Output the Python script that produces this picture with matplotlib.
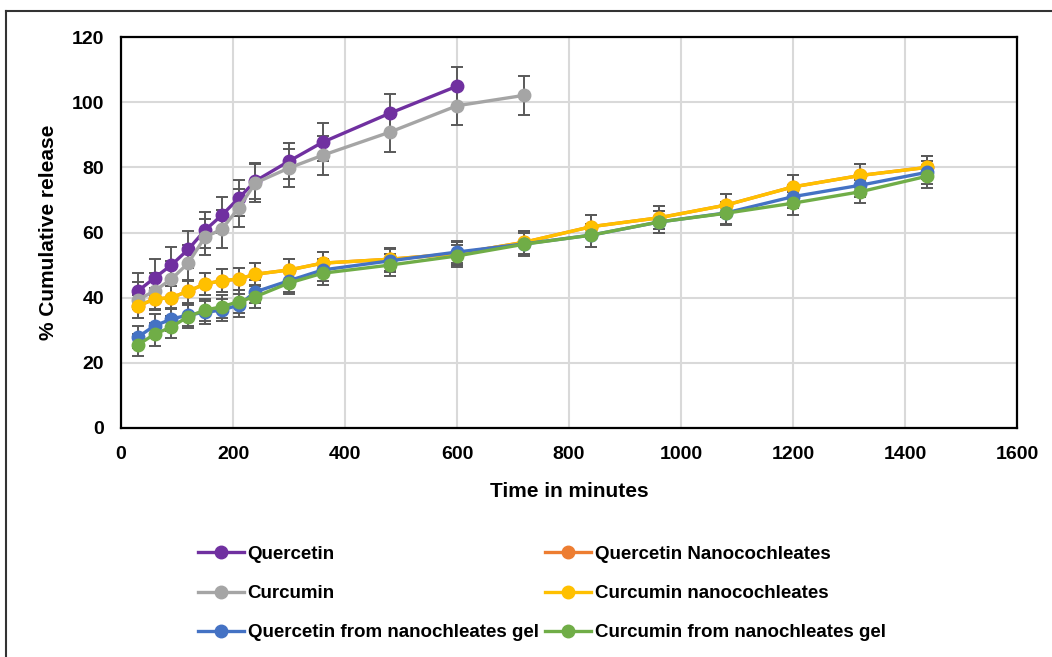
import matplotlib.pyplot as plt
from matplotlib.lines import Line2D

plt.rcParams['font.family'] = ['Liberation Sans', 'DejaVu Sans']
plt.rcParams['font.weight'] = 'bold'

# time points (minutes)
t_short = [30, 60, 90, 120, 150, 180, 210, 240, 300, 360, 480, 600]
t_curc = t_short + [720]
t_long = t_curc + [840, 960, 1080, 1200, 1320, 1440]

quercetin = [42, 46.1, 50, 54.8, 60.7, 65.3, 70.5, 75.8, 81.9, 87.7, 96.6, 104.9]
quercetin_err = [5.6, 5.7, 5.6, 5.6, 5.5, 5.5, 5.5, 5.6, 5.6, 5.8, 6, 5.8]

curcumin = [39.3, 42.1, 45.7, 50.6, 58.6, 61, 67.5, 75.2, 79.8, 83.7, 90.8, 98.9, 102.1]
curcumin_err = [5.5, 5.5, 5.5, 5.6, 5.6, 5.8, 5.8, 5.8, 5.8, 6, 6, 5.9, 5.9]

curc_nano = [37.4, 39.6, 40, 42, 44.2, 45.2, 45.7, 47.2, 48.5, 50.6, 51.8, 53.5, 57,
             61.8, 64.5, 68.4, 74, 77.5, 80]
curc_nano_err = [3.5] * 19

querc_nano = [37.4, 39.6, 40, 42, 44.2, 45.2, 45.7, 47.2, 48.5, 50.6, 51.8, 53.5, 57,
              61.8, 64.5, 68.4, 74, 77.5, 80]
querc_nano_err = [3.5] * 19

querc_gel = [27.9, 31.4, 33.4, 34.7, 35.5, 36.2, 37.7, 41.8, 45.2, 48.5, 51.3, 54, 56.5,
             59.2, 63.2, 66, 71, 74.5, 78.5]
querc_gel_err = [3.5] * 19

curc_gel = [25.5, 28.8, 31, 34.2, 36.2, 37.2, 38.8, 40.3, 44.5, 47.5, 50, 52.8, 56.4,
            59.2, 63.2, 65.9, 69, 72.5, 77.3]
curc_gel_err = [3.5] * 19

series = [
    ("Quercetin", t_short, quercetin, quercetin_err, "#7030A0"),
    ("Quercetin Nanocochleates", t_long, querc_nano, querc_nano_err, "#ED7D31"),
    ("Curcumin", t_curc, curcumin, curcumin_err, "#A5A5A5"),
    ("Curcumin nanocochleates", t_long, curc_nano, curc_nano_err, "#FFC000"),
    ("Quercetin from nanochleates gel", t_long, querc_gel, querc_gel_err, "#4472C4"),
    ("Curcumin from nanochleates gel", t_long, curc_gel, curc_gel_err, "#70AD47"),
]

fig = plt.figure(figsize=(10.52, 6.57), dpi=100)
ax = fig.add_axes([121 / 1052, 1 - 428 / 657, 896 / 1052, 391 / 657])

handles = {}
for name, t, y, e, c in series:
    ax.errorbar(t, y, yerr=e, fmt='none', ecolor='#595959', elinewidth=1.4,
                capsize=4.5, capthick=1.4, zorder=2)
    ax.plot(t, y, color=c, lw=2.4, marker='o', ms=9, zorder=3)
    handles[name] = Line2D([], [], color=c, lw=2.4, marker='o', ms=9)

ax.set_xlim(0, 1600)
ax.set_ylim(0, 120)
ax.set_xticks(range(0, 1601, 200))
ax.set_yticks(range(0, 121, 20))
ax.grid(True, color='#D9D9D9', lw=1.5)
ax.set_axisbelow(True)
for s in ax.spines.values():
    s.set_color('black')
    s.set_linewidth(1.6)
ax.tick_params(length=0, labelsize=14)
ax.tick_params(axis='x', pad=13)
ax.tick_params(axis='y', pad=12)
for lab in ax.get_xticklabels() + ax.get_yticklabels():
    lab.set_fontweight('bold')
ax.set_xlabel("Time in minutes", fontsize=15, fontweight='bold', labelpad=14)
ax.set_ylabel("% Cumulative release", fontsize=15, fontweight='bold', labelpad=10)

order = ["Quercetin", "Curcumin", "Quercetin from nanochleates gel",
         "Quercetin Nanocochleates", "Curcumin nanocochleates", "Curcumin from nanochleates gel"]
fig.legend([handles[n] for n in order], order, ncol=2, frameon=False,
           loc='upper left', bbox_to_anchor=(181 / 1052, 1 - 529 / 657),
           prop={'weight': 'bold', 'size': 13.5}, handlelength=2.45,
           handletextpad=0.2, columnspacing=0.35, labelspacing=1.17)

# outer frame (left and top only)
fig.add_artist(Line2D([6 / 1052, 6 / 1052], [0, 1 - 11 / 657], color='#333333', lw=1.5,
                      transform=fig.transFigure))
fig.add_artist(Line2D([6 / 1052, 1], [1 - 11 / 657, 1 - 11 / 657], color='#333333', lw=1.5,
                      transform=fig.transFigure))

fig.savefig("out.png", dpi=100)
